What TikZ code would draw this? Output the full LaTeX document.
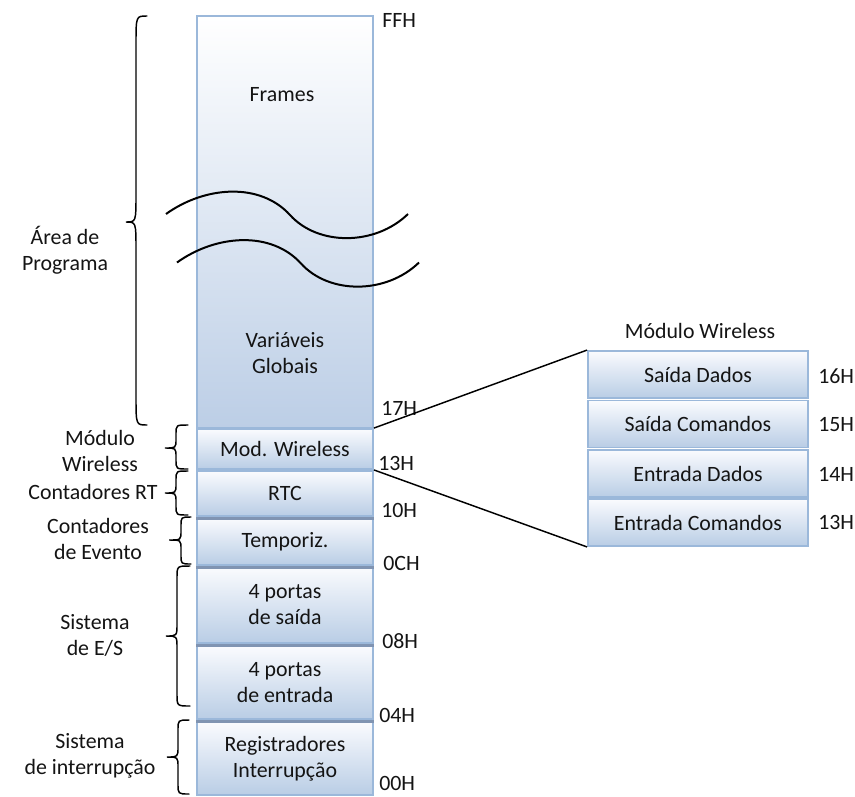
\documentclass[tikz,border=0pt]{standalone}
\usepackage{fontspec}
\setmainfont{Carlito}

\definecolor{cellborder}{RGB}{155,184,218}
\definecolor{cellblue}{RGB}{185,205,229}
\definecolor{cellwhite}{RGB}{250,251,254}
\definecolor{cellshadow}{RGB}{128,148,178}
\definecolor{inktext}{RGB}{20,20,20}

% curly brace opening to the right: #1 end x, #2 spine x, #3 tip x,
% #4 top y, #5 tip y, #6 bottom y, #7 length of the end curls
\newcommand{\curlybrace}[7]{%
  \draw[bracepen] (#1,#4) .. controls (#2,#4) and (#2,#4) .. (#2,#4+#7)
    -- (#2,#5-#7) .. controls (#2,#5) and (#2,#5) .. (#3,#5)
    .. controls (#2,#5) and (#2,#5) .. (#2,#5+#7)
    -- (#2,#6-#7) .. controls (#2,#6) and (#2,#6) .. (#1,#6);}

\tikzset{
  txt/.style={font=\fontsize{16.4}{19.5}\selectfont, align=center, inner sep=0pt, text=inktext},
  cell/.style={txt, draw=cellborder, line width=1.4pt, top color=cellwhite, bottom color=cellblue},
  memcell/.style={cell, minimum width=132pt},
  wlcell/.style={cell, minimum width=165pt, minimum height=35.25pt},
  addr/.style={txt, anchor=west},
  link/.style={draw=black, line width=1.1pt},
  wave/.style={draw=black, line width=1.5pt},
  bracepen/.style={draw=black, line width=1.1pt, line cap=round},
  shadowline/.style={draw=cellshadow, line width=1.8pt},
}

\begin{document}
\begin{tikzpicture}[x=0.75pt,y=-0.75pt]
\useasboundingbox (0,0) rectangle (855,796);

% program area column
\node[memcell, minimum height=309pt, top color=white, bottom color={rgb,255:red,188;green,206;blue,230}] (prog) at (285,222) {};
\node[txt] (frames) at (282,95) {Frames};
\node[txt] (globals) at (285,353) {Variáveis\\Globais};

% break marks across the column
\draw[wave] (166,214) .. controls (205,186) and (260,182) .. (290,215)
  .. controls (318,246) and (375,246) .. (408,214);
\begin{scope}[shift={(11,48.5)}]
\draw[wave] (166,214) .. controls (205,186) and (260,182) .. (290,215)
  .. controls (318,246) and (375,246) .. (408,214);
\end{scope}

% memory cells below the program area
\node[memcell, minimum height=30pt] (mw) at (285,449) {Mod. Wireless};
\node[memcell, minimum height=33.75pt] (rtc) at (285,493.5) {RTC};
\node[memcell, minimum height=35.25pt] (tmp) at (285,541.5) {Temporiz.};
\node[memcell, minimum height=57pt] (out) at (285,605) {4 portas\\de saída};
\node[memcell, minimum height=54.75pt] (inp) at (285,682.5) {4 portas\\de entrada};
\node[memcell, minimum height=54.75pt] (irq) at (285,758.5) {Registradores\\Interrupção};

\foreach \c in {rtc,tmp,out,inp}
  \draw[shadowline] ([yshift=-1.2pt]\c.south west) -- ([yshift=-1.2pt]\c.south east);

% addresses
\node[addr] (aFF) at (382,20) {FFH};
\node[addr] (a17) at (381,408) {17H};
\node[addr] (a13) at (378,463) {13H};
\node[addr] (a10) at (381,510) {10H};
\node[addr] (a0C) at (383,563) {0CH};
\node[addr] (a08) at (382,641) {08H};
\node[addr] (a04) at (379,715) {04H};
\node[addr] (a00) at (379,783) {00H};

% braces and region names
\curlybrace{147}{136}{126}{16}{222}{425}{28}
\curlybrace{188}{176}{165}{425}{448}{469}{9}
\curlybrace{188}{176}{165}{471}{493}{515}{9}
\curlybrace{191}{181}{169}{517}{540}{564}{9}
\curlybrace{190}{177}{166}{566}{636}{706}{12}
\curlybrace{189}{178}{167}{720}{757}{794}{10}

\node[txt] (lprog) at (65,250) {Área de\\Programa};
\node[txt] (lmw) at (100,451) {Módulo\\Wireless};
\node[txt] (lrt) at (93,492) {Contadores RT};
\node[txt] (lev) at (98,539) {Contadores\\de Evento};
\node[txt] (lio) at (95,635) {Sistema\\de E/S};
\node[txt] (lint) at (90,756) {Sistema\\de interrupção};

% wireless module detail
\node[txt] (wltitle) at (700,331) {Módulo Wireless};
\node[wlcell] (sd) at (698,374.5) {Saída Dados};
\node[wlcell] (sc) at (698,424) {Saída Comandos};
\node[wlcell] (ed) at (698,473.5) {Entrada Dados};
\node[wlcell] (ec) at (698,522.5) {Entrada Comandos};

\node[addr] (w16) at (818,376) {16H};
\node[addr] (w15) at (818,425) {15H};
\node[addr] (w14) at (818,474) {14H};
\node[addr] (w13) at (818,522) {13H};

\draw[link] (mw.north east) -- (sd.north west);
\draw[link] (mw.south east) -- (ec.south west);
\end{tikzpicture}
\end{document}
